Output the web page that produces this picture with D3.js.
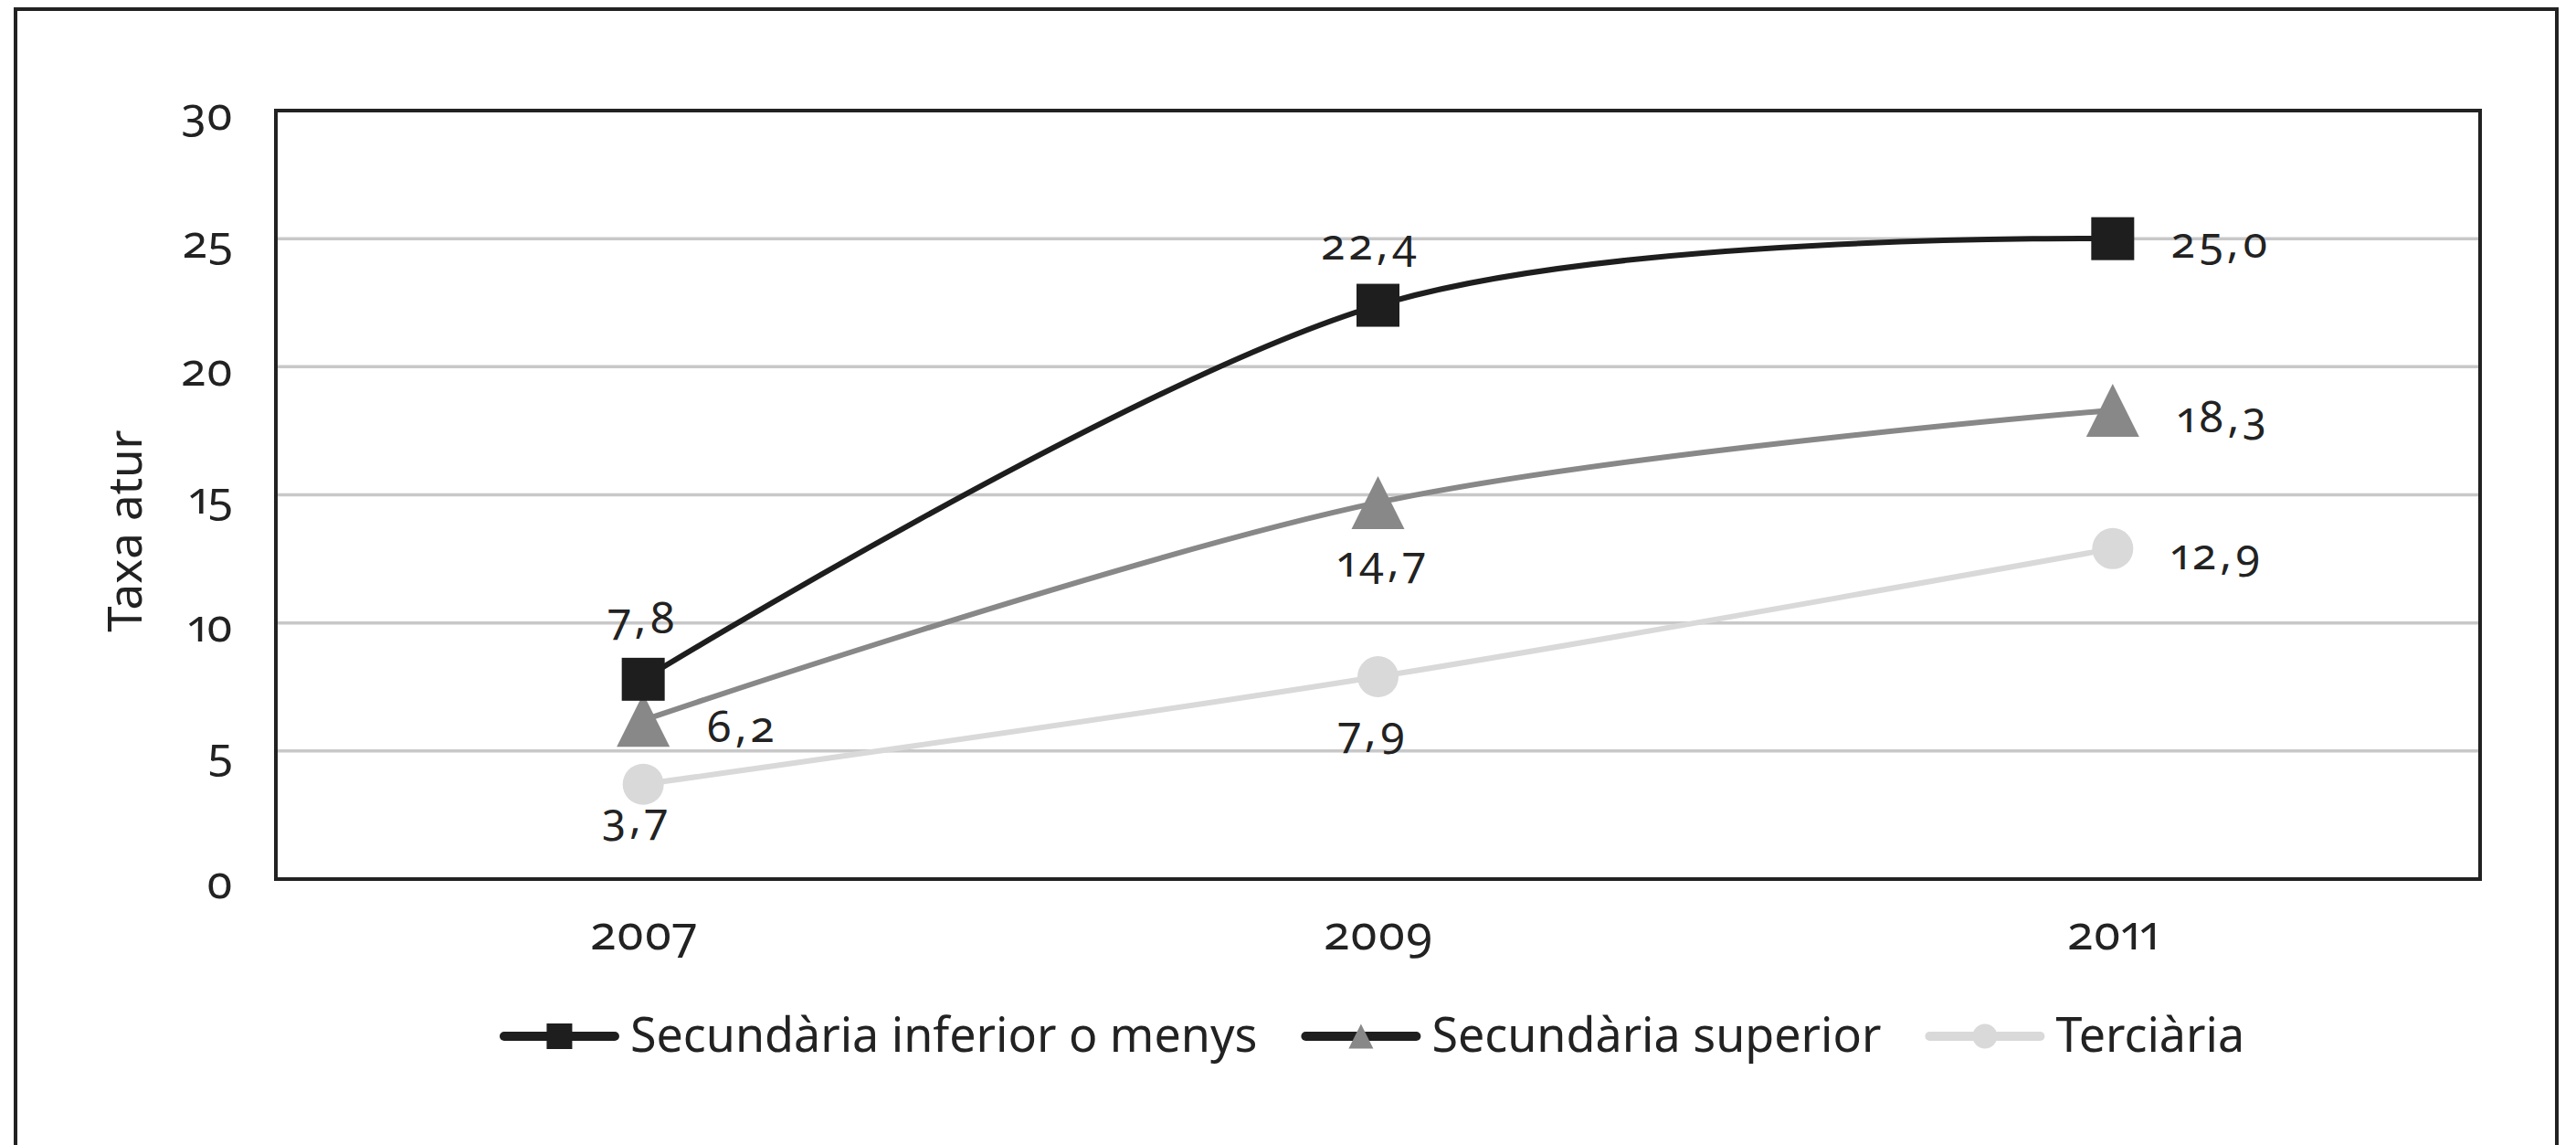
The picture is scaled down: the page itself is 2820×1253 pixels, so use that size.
<!DOCTYPE html>
<html>
<head>
<meta charset="utf-8">
<script src="https://cdn.jsdelivr.net/npm/d3@7"></script>
<style>
  html, body { margin: 0; padding: 0; background: #ffffff; }
  svg { display: block; }
  text { font-family: "Noto Sans", "Open Sans", sans-serif; fill: #222222; }
  .num { font-variant-numeric: oldstyle-nums proportional-nums; font-feature-settings: "onum" 1, "pnum" 1; }
</style>
</head>
<body>
<svg id="chart" width="2820" height="1253"></svg>
<script>
// ---------------- data ----------------
const years = ["2007", "2009", "2011"];
const seriesNames = ["Secundària inferior o menys", "Secundària superior", "Terciària"];
const inferior = [7.8, 22.4, 25.0];
const superior = [6.2, 14.7, 18.3];
const terciaria = [3.7, 7.9, 12.9];
const yTicks = [0, 5, 10, 15, 20, 25, 30];
const yTitle = "Taxa atur";

// ---------------- layout / style ----------------
const plot = { left: 302, top: 121, right: 2715, bottom: 962 };
const lineColors = ["#1e1e1e", "#888888", "#d9d9d9"];
const markerColors = ["#1e1e1e", "#888888", "#d9d9d9"];
const legendLineColors = ["#1e1e1e", "#1e1e1e", "#d9d9d9"];
const markerShapes = ["square", "triangle", "circle"];
// label offsets relative to each point: [dx, dy(baseline), anchor]
const labelOffsets = [
  [[0, -50, "middle"], [-8, -50, "middle"], [64, 21, "start"]],
  [[69, 24, "start"], [6, 81, "middle"], [71, 24, "start"]],
  [[-7, 54, "middle"], [-5, 76, "middle"], [64, 23, "start"]]
];

const seriesValues = [inferior, superior, terciaria];

const svg = d3.select("#chart");

// outer frame (bottom edge lies outside the picture)
svg.append("rect")
  .attr("x", 17).attr("y", 10)
  .attr("width", 2799 - 17).attr("height", 1400)
  .attr("fill", "none").attr("stroke", "#222222").attr("stroke-width", 4);

const x = d3.scalePoint().domain(years).range([plot.left, plot.right]).padding(0.5);
const y = d3.scaleLinear().domain([0, 30]).range([plot.bottom, plot.top]);

// gridlines
svg.append("g").selectAll("line")
  .data(yTicks.filter(t => t > 0 && t < 30))
  .join("line")
  .attr("x1", plot.left).attr("x2", plot.right)
  .attr("y1", d => y(d)).attr("y2", d => y(d))
  .attr("stroke", "#c8c8c8").attr("stroke-width", 3.5);

// plot border
svg.append("rect")
  .attr("x", plot.left).attr("y", plot.top)
  .attr("width", plot.right - plot.left).attr("height", plot.bottom - plot.top)
  .attr("fill", "none").attr("stroke", "#222222").attr("stroke-width", 4);

// y axis labels
const yAxis = d3.axisLeft(y).tickValues(yTicks).tickSize(0).tickPadding(47).tickFormat(d3.format("d"));
const gy = svg.append("g").attr("transform", `translate(${plot.left},0)`).call(yAxis);
gy.select(".domain").remove();
gy.selectAll("text")
  .attr("class", "num")
  .attr("dy", null).attr("y", 20)
  .style("font-family", '"Noto Sans", sans-serif')
  .style("font-size", "50px").style("fill", "#222222");

// x axis labels
const xAxis = d3.axisBottom(x).tickSize(0).tickPadding(0);
const gx = svg.append("g").attr("transform", `translate(0,${plot.bottom})`).call(xAxis);
gx.select(".domain").remove();
gx.selectAll("text")
  .attr("class", "num")
  .attr("dy", null).attr("y", 77)
  .style("font-family", '"Noto Sans", sans-serif')
  .style("font-size", "52px").style("fill", "#222222");

// y title
svg.append("text")
  .attr("transform", `translate(155,581) rotate(-90)`)
  .attr("text-anchor", "middle")
  .style("font-size", "51px")
  .text(yTitle);

// lines
const line = d3.line()
  .x((d, i) => x(years[i]))
  .y(d => y(d))
  .curve(d3.curveCatmullRom.alpha(0));

[2, 1, 0].forEach(s => {
  svg.append("path")
    .datum(seriesValues[s])
    .attr("d", line)
    .attr("fill", "none")
    .attr("stroke", lineColors[s])
    .attr("stroke-width", 6)
    .attr("stroke-linejoin", "round");
});

function drawMarker(g, shape, cx, cy, size, color) {
  if (shape === "square") {
    g.append("rect")
      .attr("x", cx - size / 2).attr("y", cy - size / 2)
      .attr("width", size).attr("height", size)
      .attr("fill", color);
  } else if (shape === "triangle") {
    const h = size, w = size;
    g.append("path")
      .attr("d", `M${cx},${cy - h / 2}L${cx + w / 2},${cy + h / 2}L${cx - w / 2},${cy + h / 2}Z`)
      .attr("fill", color);
  } else {
    g.append("circle").attr("cx", cx).attr("cy", cy).attr("r", size / 2).attr("fill", color);
  }
}

const markerSizes = [47, 58, 45];
const markers = svg.append("g");
[2, 1, 0].forEach(s => {
  seriesValues[s].forEach((v, i) => {
    drawMarker(markers, markerShapes[s], x(years[i]), y(v), markerSizes[s], markerColors[s]);
  });
});

// data labels
const locale = d3.formatLocale({ decimal: ",", thousands: ".", grouping: [3], currency: ["", "€"] });
const fmt = locale.format(".1f");
const labels = svg.append("g");
seriesValues.forEach((vals, s) => {
  vals.forEach((v, i) => {
    const [dx, dy, anchor] = labelOffsets[s][i];
    labels.append("text")
      .attr("class", "num")
      .attr("x", x(years[i]) + dx)
      .attr("y", y(v) + dy)
      .attr("text-anchor", anchor)
      .style("font-size", "48px")
      .style("letter-spacing", "4px")
      .text(fmt(v));
  });
});

// legend
const legend = svg.append("g");
const legendY = 1134;
const lineLen = 131, gapLT = 12, gapItems = 48;
const legendMarkerSizes = [28, 27, 27];
const tmp = legend.append("g");
const widths = seriesNames.map(n => {
  const t = tmp.append("text").style("font-size", "52px").text(n);
  const w = t.node().getComputedTextLength();
  t.remove();
  return w;
});
tmp.remove();
const total = d3.sum(widths) + seriesNames.length * (lineLen + gapLT) + (seriesNames.length - 1) * gapItems;
let cursor = 1502 - total / 2;
seriesNames.forEach((n, s) => {
  const gItem = legend.append("g");
  gItem.append("line")
    .attr("x1", cursor + 5).attr("x2", cursor + lineLen - 5)
    .attr("y1", legendY).attr("y2", legendY)
    .attr("stroke", legendLineColors[s]).attr("stroke-width", 10)
    .attr("stroke-linecap", "round");
  drawMarker(gItem, markerShapes[s], cursor + lineLen / 2, legendY, legendMarkerSizes[s], markerColors[s]);
  gItem.append("text")
    .attr("x", cursor + lineLen + gapLT)
    .attr("y", legendY + 17)
    .style("font-size", "52px")
    .text(n);
  cursor += lineLen + gapLT + widths[s] + gapItems;
});
</script>
</body>
</html>
